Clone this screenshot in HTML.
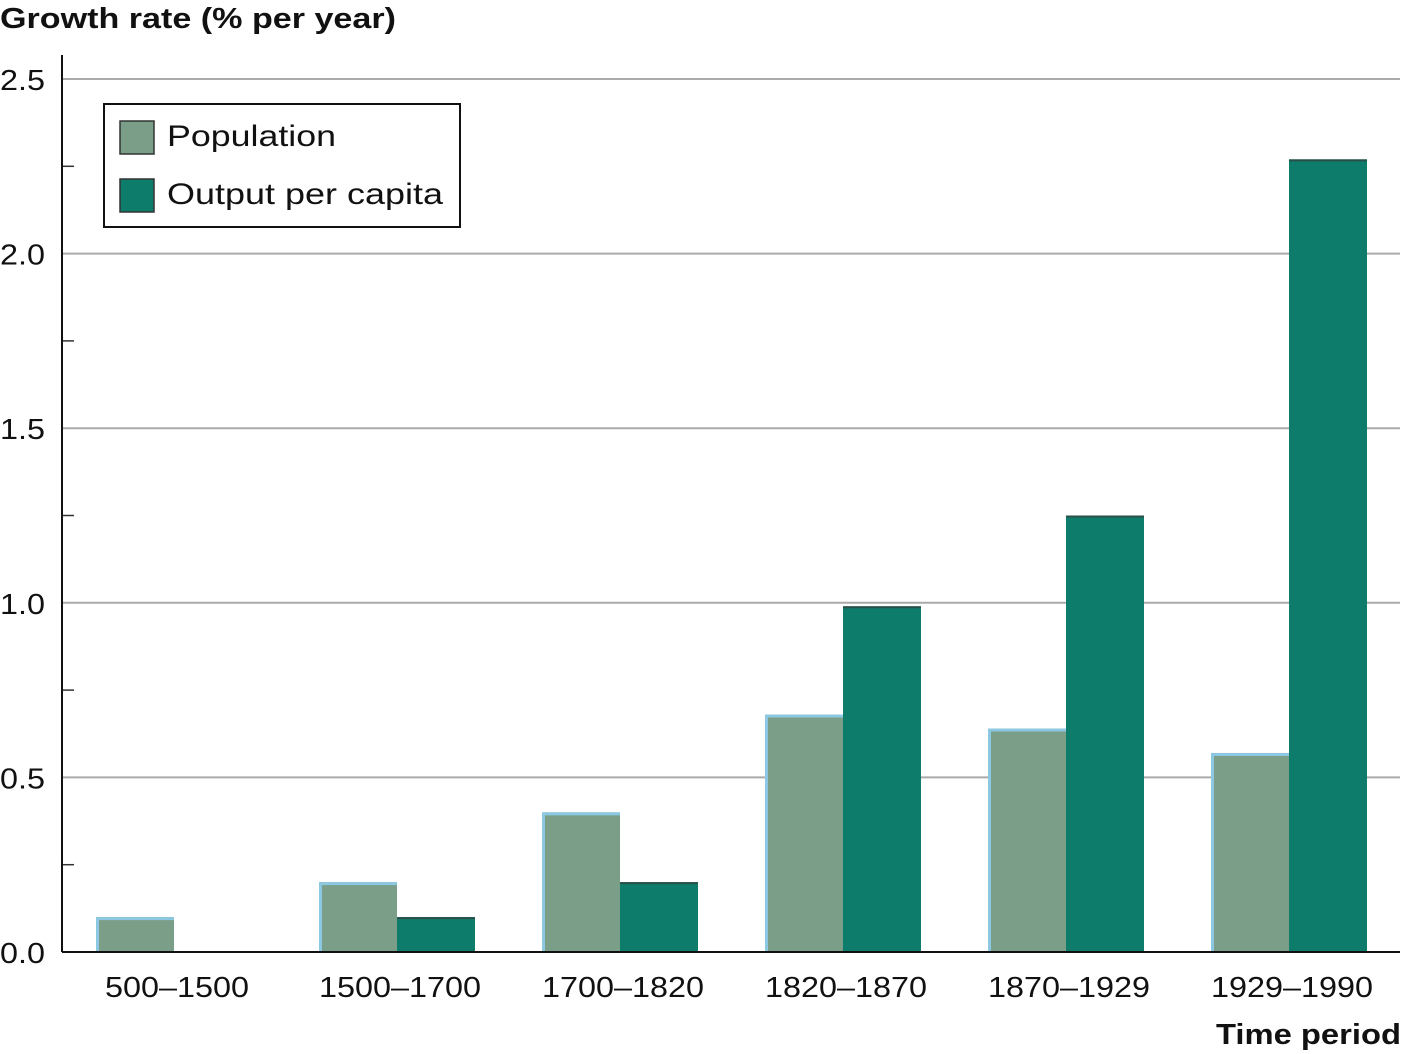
<!DOCTYPE html>
<html><head><meta charset="utf-8"><style>
html,body{margin:0;padding:0;background:#fff;}
svg{display:block;font-family:"Liberation Sans",sans-serif;}
</style></head><body>
<svg id="chart" width="1403" height="1054">
<text x="0" y="28" font-size="29" font-weight="bold" fill="#111" textLength="396" lengthAdjust="spacingAndGlyphs">Growth rate (% per year)</text>
<text x="1216" y="1044" font-size="29" font-weight="bold" fill="#111" textLength="185" lengthAdjust="spacingAndGlyphs">Time period</text>
<g id="grid"></g>
<g id="bars"></g>
<g id="axes"></g>
<g>
<rect x="104" y="104" width="356" height="123" fill="#fff" stroke="#111" stroke-width="2"/>
<rect x="120" y="121" width="34" height="33" fill="#7a9e87" stroke="#333" stroke-width="1.5"/>
<text x="167" y="146" font-size="30" fill="#111" textLength="169" lengthAdjust="spacingAndGlyphs">Population</text>
<rect x="120" y="179" width="34" height="33" fill="#0e7c6b" stroke="#333" stroke-width="1.5"/>
<text x="167" y="204" font-size="30" fill="#111" textLength="276" lengthAdjust="spacingAndGlyphs">Output per capita</text>
</g>
</svg>
<script>
const categories = ["500–1500","1500–1700","1700–1820","1820–1870","1870–1929","1929–1990"];
const population = [0.1, 0.2, 0.4, 0.68, 0.64, 0.57];
const outputPerCapita = [0, 0.1, 0.2, 0.99, 1.25, 2.27];
const yTicks = [0, 0.5, 1.0, 1.5, 2.0, 2.5];
const yTickLabels = ["0.0","0.5","1.0","1.5","2.0","2.5"];
const minorTicks = [0.25, 0.75, 1.25, 1.75, 2.25];

const NS="http://www.w3.org/2000/svg";
const x0=62, x1=1400, y0=952, yTop=79;
const yScale=v=>y0-(v/2.5)*(y0-yTop);
const groupW=(x1-x0)/categories.length;
const xGroup=i=>x0+i*groupW;
function mk(tag,attrs,parent){const e=document.createElementNS(NS,tag);for(const k in attrs)e.setAttribute(k,attrs[k]);parent.appendChild(e);return e;}
const grid=document.getElementById('grid'),bars=document.getElementById('bars'),axes=document.getElementById('axes');
yTicks.forEach((v,i)=>{
  const y=yScale(v);
  if(v>0){const l=mk('line',{x1:x0,x2:x1,y1:y,y2:y,stroke:'#aaa','stroke-width':2},grid);
  
  }
  const t=mk('text',{x:0,y:y+11,'font-size':29,fill:'#111',textLength:45,lengthAdjust:'spacingAndGlyphs'},axes);
  t.textContent=yTickLabels[i];
  
  
});
minorTicks.forEach(v=>{
  const y=yScale(v);
  const l=mk('line',{x1:x0,x2:x0+12,y1:y,y2:y,stroke:'#333','stroke-width':1.5},axes);
  
  
});
categories.forEach((c,i)=>{
  const gx=xGroup(i);
  const px=gx+34, w=78, ox=px+w;
  const pt=yScale(population[i]);
  const pb=mk('rect',{x:px,y:pt,width:w,height:y0-pt,fill:'#7a9e87'},bars);
  
  
  const pe=mk('path',{d:`M${px+1.5},${y0} L${px+1.5},${pt+1.5} L${px+w},${pt+1.5}`,fill:'none',stroke:'#8cc8e2','stroke-width':3},bars);
  
  
  if(outputPerCapita[i]>0){
    const ot=yScale(outputPerCapita[i]);
    const ob=mk('rect',{x:ox,y:ot,width:w,height:y0-ot,fill:'#0e7c6b'},bars);
    
    
    const oe=mk('line',{x1:ox,x2:ox+w,y1:ot+1,y2:ot+1,stroke:'#2a4f48','stroke-width':2},bars);
    
    
  }
  const lw = c.length===8 ? 144 : 162;
  const t=mk('text',{x:gx+115-lw/2,y:997,'font-size':29,fill:'#111',textLength:lw,lengthAdjust:'spacingAndGlyphs'},axes);
  t.textContent=c;
  
  
});
const ya=mk('line',{x1:x0,x2:x0,y1:55,y2:y0,stroke:'#111','stroke-width':2},axes);


const xa=mk('line',{x1:x0,x2:x1,y1:y0,y2:y0,stroke:'#111','stroke-width':2},axes);


</script>
</body></html>
